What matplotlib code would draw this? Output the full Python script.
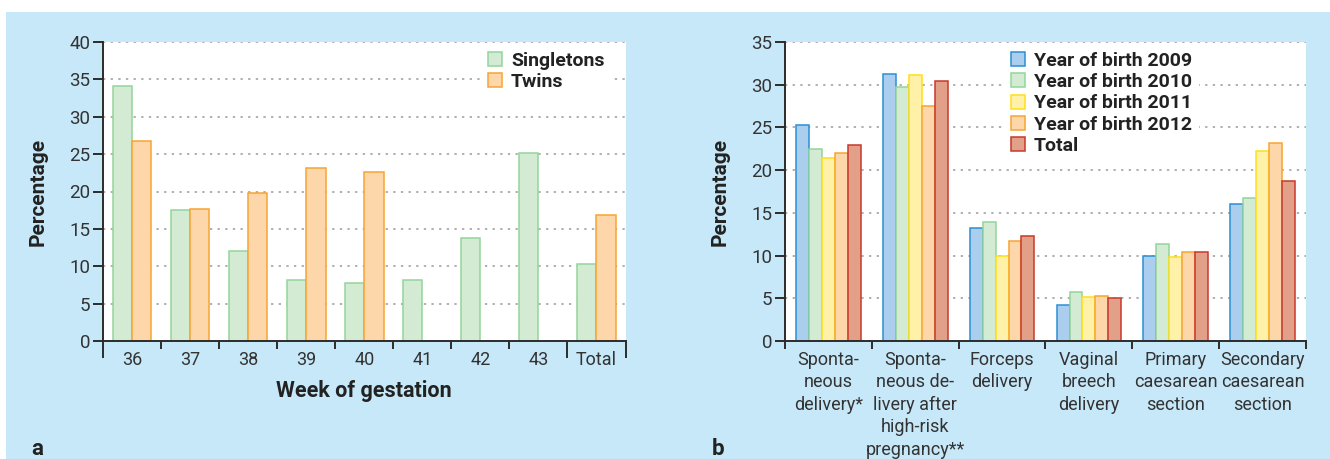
import matplotlib
matplotlib.use('Agg')
import matplotlib.pyplot as plt
import numpy as np
from matplotlib.patches import Rectangle

# Datos panel a
semanas = ['36', '37', '38', '39', '40', '41', '42', '43', 'Total']
singletons = [34.1, 17.5, 12.0, 8.1, 7.8, 8.2, 13.8, 25.1, 10.3]
twins = [26.8, 17.7, 19.8, 23.2, 22.6, 0, 0, 0, 16.8]

# Datos panel b
modos = ['Sponta-\nneous\ndelivery*',
         'Sponta-\nneous de-\nlivery after\nhigh-risk\npregnancy**',
         'Forceps\ndelivery',
         'Vaginal\nbreech\ndelivery',
         'Primary\ncaesarean\nsection',
         'Secondary\ncaesarean\nsection']
anos = ['Year of birth 2009', 'Year of birth 2010', 'Year of birth 2011',
        'Year of birth 2012', 'Total']
y2009 = [25.3, 31.25, 13.2, 4.2, 10.0, 16.0]
y2010 = [22.45, 29.7, 13.95, 5.75, 11.3, 16.7]
y2011 = [21.45, 31.15, 10.0, 5.2, 9.85, 22.2]
y2012 = [22.0, 27.45, 11.75, 5.25, 10.4, 23.2]
ytotal = [23.0, 30.45, 12.3, 5.0, 10.4, 18.7]

FONTE = ['Roboto', 'DejaVu Sans']
AZUL_FUNDO = '#c7e8f8'
ESCURO = '#2b2b2b'

cores = {
    'verde': ('#d3ead3', '#93d49b'),
    'laranja': ('#fdd6a9', '#f7a433'),
    'azul': ('#abcdee', '#2a90d6'),
    'amarelo': ('#fff1a8', '#ffdf1a'),
    'vermelho': ('#e2a088', '#c9382b'),
}

fig = plt.figure(figsize=(13.3, 4.59), dpi=100)
fig.patch.set_facecolor('white')
fig.patches.append(Rectangle((6 / 1330, 0), 1, 447 / 459, transform=fig.transFigure,
                             facecolor=AZUL_FUNDO, edgecolor='none', zorder=-10))

W, H = 1330, 459


def eixo(x0, x1):
    ax = fig.add_axes([x0 / W, (H - 341) / H, (x1 - x0) / W, 299 / H])
    ax.set_facecolor('white')
    for s in ['top', 'right']:
        ax.spines[s].set_visible(False)
    for s in ['left', 'bottom']:
        ax.spines[s].set_color(ESCURO)
        ax.spines[s].set_linewidth(1.4)
    ax.yaxis.grid(True, color='#9a9a9a', linestyle=(0, (1.5, 3.5)), linewidth=1.1)
    ax.set_axisbelow(True)
    ax.tick_params(axis='y', direction='out', length=7, width=1.4, color=ESCURO,
                   labelsize=13.5, labelcolor='#333333', pad=2)
    ax.tick_params(axis='x', which='major', length=0, labelsize=13,
                   labelcolor='#333333', pad=7)
    ax.tick_params(axis='x', which='minor', direction='out', length=5.8, width=1.4,
                   color=ESCURO)
    for lab in ax.get_yticklabels():
        lab.set_family(FONTE)
    return ax


def legenda(ax, x, y):
    leg = ax.legend(loc='upper left', bbox_to_anchor=(x, y), borderaxespad=0,
                    frameon=True, fancybox=False, framealpha=1, facecolor='white',
                    edgecolor='none', handlelength=0.75, handleheight=0.75,
                    handletextpad=0.45, labelspacing=0.17, borderpad=0.35,
                    prop={'family': FONTE, 'weight': 'bold', 'size': 14})
    for t in leg.get_texts():
        t.set_color('#222222')
    return leg


# ---- Panel a
axa = eixo(103, 625.5)
xa = np.arange(len(semanas))
larg = 0.333
axa.bar(xa - larg / 2, singletons, larg, color=cores['verde'][0],
        edgecolor=cores['verde'][1], linewidth=1.1, label='Singletons')
tw = np.array(twins, dtype=float)
tw[tw == 0] = np.nan
axa.bar(xa + larg / 2, tw, larg, color=cores['laranja'][0],
        edgecolor=cores['laranja'][1], linewidth=1.1, label='Twins')
axa.set_xlim(-0.5, len(semanas) - 0.5)
axa.set_ylim(0, 40)
axa.set_yticks(np.arange(0, 41, 5))
axa.set_xticks(xa)
axa.set_xticklabels(semanas, family=FONTE)
axa.set_xticks(np.arange(0.5, 7, 1), minor=True)
sec = axa.secondary_xaxis('bottom')
sec.set_xticks([-0.5, 7.5, 8.5])
sec.tick_params(length=12.2, width=1.4, color=ESCURO, labelbottom=False)
sec.spines['bottom'].set_visible(False)
axa.set_ylabel('Percentage', family=FONTE, weight='bold', fontsize=15,
               color='#222222', labelpad=15.5)
axa.set_xlabel('Week of gestation', family=FONTE, weight='bold', fontsize=15.5,
               color='#222222', labelpad=8)
legenda(axa, 0.723, 0.99)

# ---- Panel b
axb = eixo(785, 1306)
xb = np.arange(len(modos))
lb = 0.149
series = [y2009, y2010, y2011, y2012, ytotal]
nomes_cor = ['azul', 'verde', 'amarelo', 'laranja', 'vermelho']
for i, (vals, nome, c) in enumerate(zip(series, anos, nomes_cor)):
    axb.bar(xb + (i - 2) * lb, vals, lb, color=cores[c][0], edgecolor=cores[c][1],
            linewidth=1.1, label=nome)
axb.set_xlim(-0.5, len(modos) - 0.5)
axb.set_ylim(0, 35)
axb.set_yticks(np.arange(0, 36, 5))
axb.set_xticks(xb)
axb.set_xticklabels(modos, family=FONTE, linespacing=1.32)
axb.set_xticks(np.arange(-0.5, 6, 1), minor=True)
axb.set_ylabel('Percentage', family=FONTE, weight='bold', fontsize=15,
               color='#222222', labelpad=15.5)
legenda(axb, 0.42, 0.99)

fig.text(31 / W, 1 - 449 / H, 'a', family=FONTE, weight='bold', fontsize=16,
         color='#222222', va='center', ha='left')
fig.text(712 / W, 1 - 449 / H, 'b', family=FONTE, weight='bold', fontsize=16,
         color='#222222', va='center', ha='left')

fig.savefig('out.png', dpi=100)
